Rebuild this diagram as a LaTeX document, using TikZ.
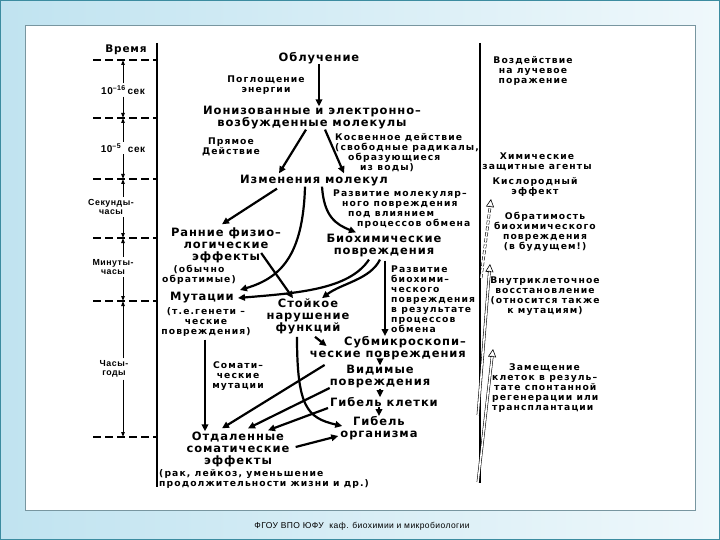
\documentclass[tikz,border=0pt]{standalone}
\usepackage{fontspec}
\setmainfont{DejaVu Sans}
\newfontfamily\bigfnt{DejaVu Sans}[LetterSpace=8]
\newfontfamily\smfnt{DejaVu Sans}[LetterSpace=12]
\newfontfamily\timefnt{Liberation Sans}[LetterSpace=6]
\newfontfamily\footfnt{Liberation Sans}[LetterSpace=5]
\usetikzlibrary{calc, arrows.meta}

\definecolor{slidebg}{RGB}{192,227,240}
\definecolor{slideline}{RGB}{60,140,160}
\definecolor{framegray}{RGB}{120,150,160}

\begin{document}
\begin{tikzpicture}[
        x=1pt, y=-1pt,
        >={Triangle[length=7pt,width=6.5pt]},
        big/.style={
            font=\bigfnt\bfseries\fontsize{11.5}{12}\selectfont,
            inner sep=0pt,
            align=center
        },
        sm/.style={
            font=\smfnt\bfseries\fontsize{9.2}{10}\selectfont,
            inner sep=0pt,
            align=center
        },
        tsm/.style={
            font=\timefnt\bfseries\fontsize{8.8}{9}\selectfont,
            inner sep=0pt,
            align=center
        },
        arr/.style={->, line width=2.2pt},
        tarr/.style={-{Triangle[length=5pt,width=3.5pt]}, line width=1pt, shorten <=2pt},
        tdash/.style={line width=1.3pt, dash pattern=on 8pt off 4pt},
        axis/.style={line width=2.6pt},
        hollow/.style={double, double distance=1.6pt, line width=0.55pt},
        hhead/.style={line width=0.6pt, -{Triangle[open,length=8pt,width=8pt]}}
    ]
    \useasboundingbox (0,0) rectangle (720,540);

    % --- SLIDE ---
    \shade[left color=slidebg, right color=slidebg!25!white] (0,0) rectangle (720,540);
    \draw[slideline, line width=0.8pt] (0.5,0.5) rectangle (719.5,539.5);
    \draw[framegray, fill=white, line width=0.6pt] (25,25) rectangle (695,510);
    \node[font=\footfnt\fontsize{8.5}{10}\selectfont] (footer) at (362,526)
        {ФГОУ ВПО ЮФУ \ каф. биохимии и микробиологии};

    % --- TIME SCALE ---
    \node[big, font=\bigfnt\bfseries\fontsize{10.5}{12}\selectfont] (vremya) at (126,50) {Время};
    \foreach \y [count=\i from 0] in {60,118,179,238,301,437} {
        \draw[tdash] (93,\y) -- (157,\y);
        \coordinate (d\i) at (123,\y);
    }
    \coordinate (ltop) at (157,43);
    \coordinate (lbot) at (157,487);
    \draw[axis] (ltop) -- (lbot);

    \node[tsm, font=\timefnt\bfseries\fontsize{10}{10}\selectfont] (tsec16) at (123,90) {10\textsuperscript{–16}\,сек};
    \node[tsm, font=\timefnt\bfseries\fontsize{10}{10}\selectfont] (tsec5) at (123,148) {10\textsuperscript{–5}\,\, сек};
    \node[tsm] (tsek) at (111,207) {Секунды-\\часы};
    \node[tsm] (tmin) at (113,267) {Минуты-\\часы};
    \node[tsm] (tchas) at (114,369) {Часы-\\годы};

    \draw[tarr] (tsec16.north -| d0) -- (d0);
    \draw[tarr] (tsec16.south -| d1) -- (d1);
    \draw[tarr] (tsec5.north -| d1) -- (d1);
    \draw[tarr] (tsec5.south -| d2) -- (d2);
    \draw[tarr] (tsek.north -| d2) -- (d2);
    \draw[tarr] (tsek.south -| d3) -- (d3);
    \draw[tarr] (tmin.north -| d3) -- (d3);
    \draw[tarr] (tmin.south -| d4) -- (d4);
    \draw[tarr] (tchas.north -| d4) -- (d4);
    \draw[tarr] (tchas.south -| d5) -- (d5);

    % --- MAIN CHAIN ---
    \node[big] (obl) at (319,58) {Облучение};
    \node[sm] (pogl) at (266,85) {Поглощение\\энергии};
    \node[big] (ion) at (312,118) {Ионизованные и электронно–\\возбужденные молекулы};
    \node[sm] (pryam) at (231,147) {Прямое\\Действие};
    \node[sm, align=left, anchor=west] (kosv) at (335,153)
        {Косвенное действие\\(свободные радикалы,\\\hspace*{13pt}образующиеся\\\hspace*{25pt}из воды)};
    \node[big] (izm) at (314,181) {Изменения молекул};
    \node[sm, align=left, anchor=west] (razvmol) at (333,209)
        {Развитие молекуляр–\\\hspace*{9pt}ного повреждения\\\hspace*{15pt}под влиянием\\\hspace*{24pt}процессов обмена};
    \node[big] (rann) at (226,245) {Ранние физио–\\логические\\эффекты};
    \node[sm] (obych) at (199,275) {(обычно\\обратимые)};
    \node[big] (bioch) at (384,246) {Биохимические\\повреждения};
    \node[big] (mut) at (202,298) {Мутации};
    \node[sm] (tegen) at (206,322) {(т.е.генети –\\ческие\\повреждения)};
    \node[big] (stoik) at (308,316) {Стойкое\\нарушение\\функций};
    \node[sm, align=left, anchor=west] (razvbio) at (391,299)
        {Развитие\\биохими–\\ческого\\повреждения\\в результате\\процессов\\обмена};
    \node[sm] (somat) at (238,376) {Сомати–\\ческие\\мутации};
    \node[big, align=right, anchor=east] (submik) at (466,348)
        {Субмикроскопи–\\ческие повреждения};
    \node[big] (vid) at (380,377) {Видимые\\повреждения};
    \node[big] (gibk) at (384,402) {Гибель клетки};
    \node[big] (gibo) at (379,428) {Гибель\\организма};
    \node[big] (otd) at (238,449) {Отдаленные\\соматические\\эффекты};
    \node[sm, align=left, anchor=west] (rak) at (159,479)
        {(рак, лейкоз, уменьшение\\продолжительности жизни и др.)};

    % --- RIGHT COLUMN ---
    \coordinate (rtop) at (480,43);
    \coordinate (rbot) at (480,483);
    \draw[axis] (rtop) -- (rbot);
    \node[sm] (vozd) at (533,71) {Воздействие\\на лучевое\\поражение};
    \node[sm] (khim) at (537,162) {Химические\\защитные агенты};
    \node[sm] (kisl) at (535,187) {Кислородный\\эффект};
    \node[sm] (obrat) at (545,232) {Обратимость\\биохимического\\повреждения\\(в будущем!)};
    \node[sm] (vnutr) at (545,296) {Внутриклеточное\\восстановление\\(относится также\\к мутациям)};
    \node[sm, align=left, anchor=west] (zamesh) at (492,388)
        {\hspace*{17pt}Замещение\\клеток в резуль–\\\hspace*{2pt}тате спонтанной\\регенерации или\\трансплантации};

    % --- ARROWS ---
    \draw[arr] (obl.south) -- (obl.south |- ion.north);
    \draw[arr] ([shift={(-6,0)}]ion.south) -- ([shift={(-35,-2)}]izm.north);
    \draw[arr] ([shift={(13,0)}]ion.south) -- ([shift={(30,-2)}]izm.north);
    \draw[arr] ([shift={(-37,2)}]izm.south) -- ([shift={(-4,-3)}]rann.north);
    \draw[arr] ([shift={(-9,0)}]izm.south) .. controls +(-2,70) and +(40,-12) .. ([shift={(6,-8)}]mut.east);
    \draw[arr] ([shift={(8,0)}]izm.south) .. controls +(2,30) and +(-20,-8) .. ([shift={(-28,-2)}]bioch.north);
    \draw[arr] ([shift={(-20,8)}]rann.east) -- ([shift={(-15,0)}]stoik.north);
    \draw[arr] ([shift={(-15,2)}]bioch.south) .. controls +(-20,30) and +(60,-5) .. ([shift={(4,0)}]mut.east);
    \draw[arr] ([shift={(-4,2)}]bioch.south) .. controls +(-10,20) and +(20,-15) .. ([shift={(14,0)}]stoik.north);
    \coordinate (bout) at ([shift={(1,3)}]bioch.south);
    \draw[arr] (bout) -- (bout |- submik.north);
    \coordinate (mutout) at ([shift={(-1,3)}]tegen.south);
    \draw[arr] (mutout) -- (mutout |- otd.north);
    \draw[arr] ([shift={(-11,3)}]stoik.south) .. controls +(0,70) and +(-35,-8) .. ([shift={(2,-2)}]gibo.west);
    \draw[arr] ([shift={(7,3)}]stoik.south) -- ([shift={(17,10)}]submik.north west);
    \draw[arr] (vid.north |- submik.south) -- (vid.north);
    \draw[arr] (vid.south) -- (vid.south |- gibk.north);
    \draw[arr] (gibo.north |- gibk.south) -- (gibo.north);
    \draw[arr] ([shift={(15,5)}]submik.south west) -- ([shift={(-16,-3)}]otd.north);
    \draw[arr] ([shift={(0,11)}]vid.west) -- ([shift={(10,-3)}]otd.north);
    \draw[arr] ([shift={(-2,6)}]gibk.west) -- ([shift={(30,-1)}]otd.north);
    \draw[arr] ([shift={(6,-2)}]otd.east) -- ([shift={(-2,8)}]gibo.west);

    % open arrows on the right line
    \coordinate (h1s) at (481,278);
    \coordinate (h1e) at (491,199);
    \coordinate (h2s) at (478,415);
    \coordinate (h2e) at (490,264);
    \coordinate (h3s) at (478,482);
    \coordinate (h3e) at (493,349);
    \draw[hollow, dash pattern=on 4pt off 2pt] (h1s) -- ($(h1e)!7pt!(h1s)$);
    \draw[hhead] ($(h1e)!8pt!(h1s)$) -- (h1e);
    \draw[hollow] (h2s) -- ($(h2e)!7pt!(h2s)$);
    \draw[hhead] ($(h2e)!8pt!(h2s)$) -- (h2e);
    \draw[hollow] (h3s) -- ($(h3e)!7pt!(h3s)$);
    \draw[hhead] ($(h3e)!8pt!(h3s)$) -- (h3e);

\end{tikzpicture}
\end{document}
